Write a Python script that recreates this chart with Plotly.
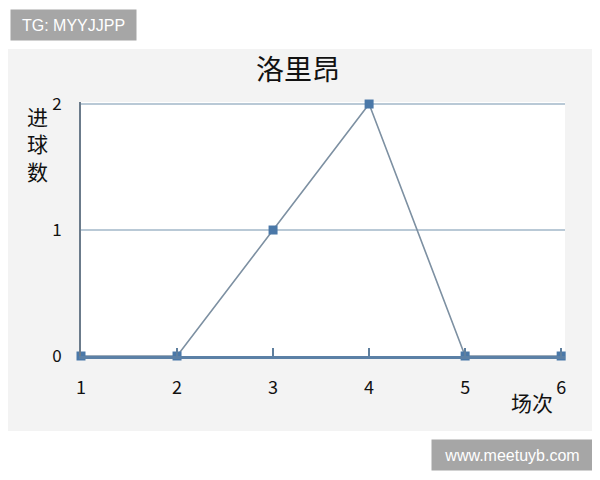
import plotly.graph_objects as go

# goals per match for 洛里昂
matches = [1, 2, 3, 4, 5, 6]
goals = [0, 0, 1, 2, 0, 0]
y_ticks = [0, 1, 2]

FONT = "Noto Sans CJK SC"
MARK = "#4a78a8"
LINE = "#7d90a2"

fig = go.Figure()
fig.add_trace(go.Scatter(
    x=matches,
    y=goals,
    mode="lines+markers",
    line=dict(color=LINE, width=1.6),
    marker=dict(symbol="square", size=9, color=MARK),
    cliponaxis=False,
    showlegend=False,
))

fig.update_xaxes(
    range=[1, 6.04],
    tickvals=matches,
    ticks="inside",
    ticklen=8,
    tickwidth=1.5,
    tickcolor="#5f7f9e",
    showline=True,
    linecolor="#5b80a6",
    linewidth=2.5,
    showgrid=False,
    zeroline=False,
    ticklabelstandoff=14,
    tickfont=dict(family=FONT, size=18, color="#111111"),
)
fig.update_yaxes(
    range=[0, 2.016],
    tickvals=y_ticks,
    ticks="",
    showline=True,
    linecolor="#6b7b8b",
    linewidth=2,
    showgrid=True,
    gridcolor="#b9c9d6",
    gridwidth=1.5,
    zeroline=False,
    ticklabelstandoff=14,
    tickfont=dict(family=FONT, size=17, color="#111111"),
)

# page body adds an 8px margin, so the figure is sized to fit what remains
fig.update_layout(
    width=592,
    height=472,
    margin=dict(l=73, r=35, t=94, b=124),
    paper_bgcolor="#f3f3f3",
    plot_bgcolor="#ffffff",
    title=dict(
        text="洛里昂",
        x=0.49, xanchor="center",
        y=1 - 62 / 472, yanchor="middle",
        font=dict(family=FONT, size=28, color="#111111"),
    ),
    shapes=[
        dict(type="rect", xref="paper", yref="paper",
             x0=-0.2, x1=1.2, y0=(356 - 49) / 254, y1=1.5,
             fillcolor="#ffffff", line=dict(width=0), layer="below"),
        dict(type="rect", xref="paper", yref="paper",
             x0=-0.2, x1=1.2, y0=-0.6, y1=(356 - 431) / 254,
             fillcolor="#ffffff", line=dict(width=0), layer="below"),
    ],
    annotations=[
        dict(text="进<br>球<br>数", xref="paper", yref="paper",
             x=(37 - 81) / 484, y=(356 - 143) / 254,
             xanchor="center", yanchor="middle", showarrow=False,
             font=dict(family=FONT, size=21, color="#111111")),
        dict(text="场次", xref="paper", yref="paper",
             x=(532 - 81) / 484, y=(356 - 402) / 254,
             xanchor="center", yanchor="middle", showarrow=False,
             font=dict(family=FONT, size=21, color="#111111")),
        dict(text="TG: MYYJJPP", xref="paper", yref="paper",
             x=(10 - 81) / 484, y=(356 - 25) / 254,
             xanchor="left", yanchor="middle", showarrow=False,
             bgcolor="#a6a6a6", width=117, height=22, borderpad=4,
             font=dict(family="Liberation Sans", size=16, color="#ffffff")),
        dict(text="www.meetuyb.com", xref="paper", yref="paper",
             x=(431 - 81) / 484, y=(356 - 455) / 254,
             xanchor="left", yanchor="middle", showarrow=False,
             bgcolor="#a6a6a6", width=152, height=22, borderpad=4,
             font=dict(family="Liberation Sans", size=16, color="#ffffff")),
    ],
)

fig.write_html("out.html")
